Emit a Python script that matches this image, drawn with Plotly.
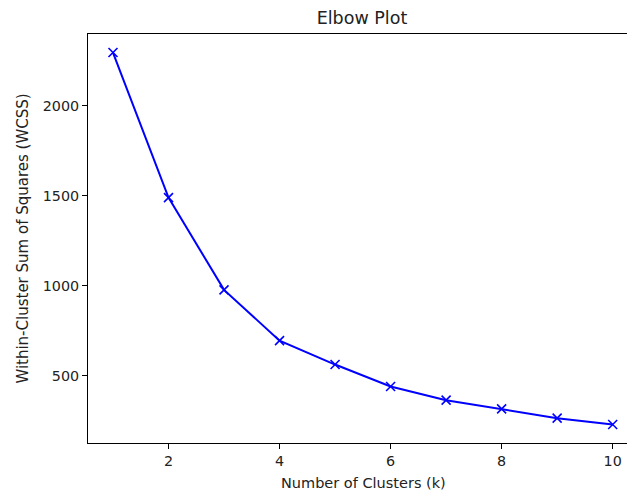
import plotly.graph_objects as go

k_values = [1, 2, 3, 4, 5, 6, 7, 8, 9, 10]
wcss = [2297, 1491, 978, 696, 563, 441, 365, 317, 265, 230]
x_ticks = [2, 4, 6, 8, 10]
y_ticks = [500, 1000, 1500, 2000]

FONT = "DejaVu Sans"

fig = go.Figure()
fig.add_trace(go.Scatter(
    x=k_values, y=wcss, mode="lines+markers",
    line=dict(color="#0000ff", width=2),
    marker=dict(symbol="x-thin", size=9, line=dict(color="#0000ff", width=1.6), color="#0000ff"),
    showlegend=False,
))

fig.update_layout(
    width=627, height=495,
    margin=dict(l=88, r=0, t=34, b=52),
    paper_bgcolor="white", plot_bgcolor="white",
    font=dict(family=FONT, size=14.3, color="#222222"),
    title=dict(text="Elbow Plot", x=362 / 627, xanchor="center", y=1 - 18 / 495,
               yanchor="middle", font=dict(size=17.5, family=FONT, color="#222222")),
    annotations=[dict(
        text="Number of Clusters (k)", xref="paper", yref="paper",
        x=(363 - 88) / 539, y=-(483 - 443) / 409, xanchor="center", yanchor="middle",
        showarrow=False, font=dict(size=14.5, family=FONT, color="#222222"),
    )],
    xaxis=dict(
        range=[0.55, 10.258], tickvals=x_ticks, ticks="outside", ticklen=5, tickwidth=1,
        tickcolor="black", showline=True, linecolor="black", linewidth=1, mirror=True,
        showgrid=False, zeroline=False,
    ),
    yaxis=dict(
        range=[127, 2400], tickvals=y_ticks, ticks="outside", ticklen=5, tickwidth=1,
        tickcolor="black", showline=True, linecolor="black", linewidth=1, mirror=False,
        showgrid=False, zeroline=False,
        title=dict(text="Within-Cluster Sum of Squares (WCSS)", standoff=10, font=dict(size=15)),
    ),
)

fig.write_html("out.html")
